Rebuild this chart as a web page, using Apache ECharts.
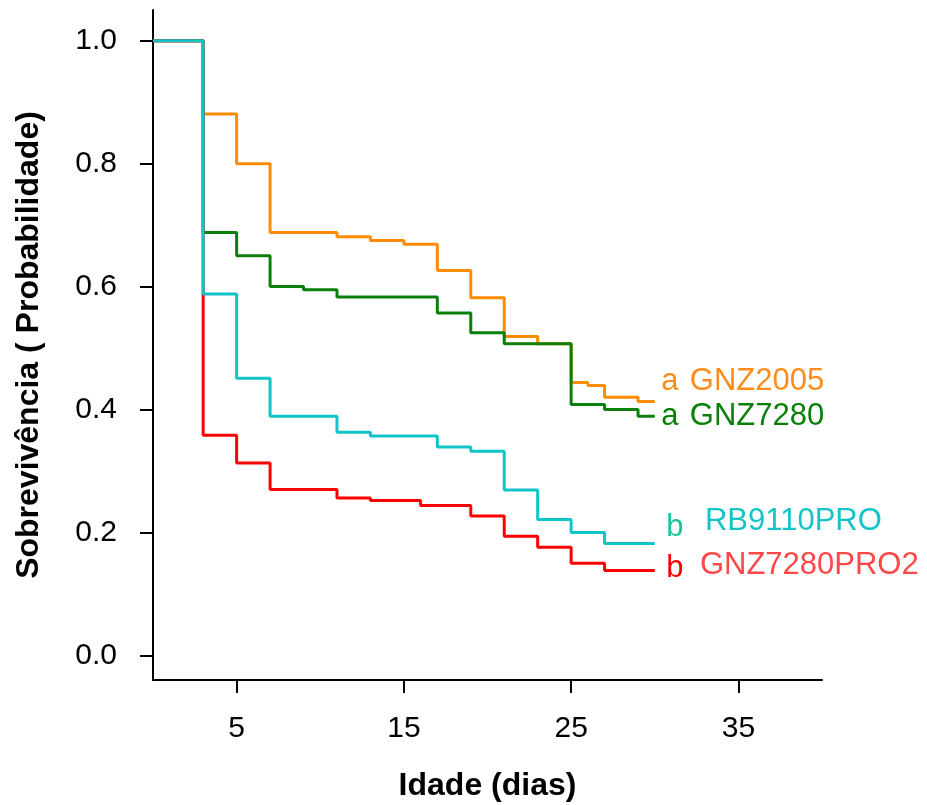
<!DOCTYPE html>
<html>
<head>
<meta charset="utf-8">
<script src="https://cdn.jsdelivr.net/npm/echarts@6/dist/echarts.min.js"></script>
<style>
  html, body { margin: 0; padding: 0; background: #fff; }
  #chart { width: 927px; height: 805px; }
</style>
</head>
<body>
<div id="chart"></div>
<script>
// dias de cada degrau e sobrevivência depois do degrau
const diasGNZ2005 = [0, 3, 5, 7, 11, 13, 15, 17, 19, 21, 23, 25, 26, 27, 29, 30]
const survGNZ2005 = [1, 0.881, 0.800, 0.688, 0.681, 0.675, 0.669, 0.626, 0.582, 0.519, 0.507, 0.444, 0.439, 0.420, 0.413, 0.413]

const diasGNZ7280 = [0, 3, 5, 7, 9, 11, 17, 19, 21, 25, 27, 29, 30]
const survGNZ7280 = [1, 0.688, 0.650, 0.600, 0.595, 0.583, 0.557, 0.525, 0.507, 0.408, 0.400, 0.389, 0.389]

const diasPRO2 = [0, 3, 5, 7, 11, 13, 16, 19, 21, 23, 25, 27, 30]
const survPRO2 = [1, 0.358, 0.313, 0.270, 0.256, 0.252, 0.244, 0.227, 0.194, 0.176, 0.150, 0.138, 0.138]

const diasRB9110 = [0, 3, 5, 7, 11, 13, 17, 19, 21, 23, 25, 27, 30]
const survRB9110 = [1, 0.588, 0.451, 0.389, 0.363, 0.357, 0.339, 0.332, 0.269, 0.221, 0.200, 0.182, 0.182]

const xTicks = [5, 15, 25, 35]
const yTicks = [0, 0.2, 0.4, 0.6, 0.8, 1.0]

// letras (grupos) e nomes ao lado das curvas
const letras = ['a', 'a', 'b', 'b']
const letrasPos = [[30.9, 0.445], [30.9, 0.388], [31.2, 0.208], [31.2, 0.141]]
const nomes = ['GNZ2005', 'GNZ7280', 'RB9110PRO', 'GNZ7280PRO2']
const nomesPos = [[32.1, 0.445], [32.1, 0.388], [33.0, 0.218], [32.7, 0.146]]
const letraCores = ['#ff8c1a', '#0a800a', '#1ec4a0', '#ff0000']
const nomeCores = ['#ff8c1a', '#0a800a', '#14c4c8', '#ff4848']

const font = 'Liberation Sans, Arial, Helvetica, sans-serif'

function pares (dias, surv) {
  return dias.map((d, i) => [d, surv[i]])
}

function curva (name, dias, surv, color) {
  return {
    name: name,
    type: 'line',
    step: 'end',
    symbol: 'none',
    lineStyle: { color: color, width: 3 },
    itemStyle: { color: color },
    data: pares(dias, surv)
  }
}

function textos (pos, txt, cores, align) {
  return {
    type: 'scatter',
    symbolSize: 0,
    silent: true,
    itemStyle: { opacity: 1 },
    data: pos.map((p, i) => ({
      value: p,
      label: {
        show: true, position: 'inside', formatter: txt[i], opacity: 1,
        color: cores[i], fontSize: 31, fontFamily: font, align: align, verticalAlign: 'middle'
      }
    }))
  }
}

const chart = echarts.init(document.getElementById('chart'))
const option = {
  animation: false,
  backgroundColor: '#ffffff',
  grid: { left: 153, right: 105, top: 10, bottom: 125, containLabel: false, outerBoundsMode: 'none' },
  xAxis: {
    type: 'value',
    min: 0,
    max: 40,
    name: 'Idade (dias)',
    nameLocation: 'middle',
    nameGap: 90,
    nameTextStyle: { fontSize: 32, fontWeight: 'bold', color: '#000', fontFamily: font },
    axisLine: { show: true, onZero: false, lineStyle: { color: '#000', width: 2 } },
    axisTick: { show: true, length: 13, lineStyle: { color: '#000', width: 2 }, customValues: xTicks },
    axisLabel: { fontSize: 30, color: '#000', fontFamily: font, margin: 34, customValues: xTicks },
    splitLine: { show: false }
  },
  yAxis: {
    type: 'value',
    min: -0.04,
    max: 1.05,
    name: 'Sobrevivência ( Probabilidade)',
    nameLocation: 'middle',
    nameGap: 108,
    nameTextStyle: { fontSize: 32, fontWeight: 'bold', color: '#000', fontFamily: font },
    axisLine: { show: true, onZero: false, lineStyle: { color: '#000', width: 2 } },
    axisTick: { show: true, length: 13, lineStyle: { color: '#000', width: 2 }, customValues: yTicks },
    axisLabel: {
      fontSize: 30, color: '#000', fontFamily: font, margin: 36, customValues: yTicks,
      formatter: (v) => v.toFixed(1)
    },
    splitLine: { show: false }
  },
  series: [
    curva('GNZ2005', diasGNZ2005, survGNZ2005, '#ff8c00'),
    curva('GNZ7280', diasGNZ7280, survGNZ7280, '#0a800a'),
    curva('GNZ7280PRO2', diasPRO2, survPRO2, '#ff0000'),
    curva('RB9110PRO', diasRB9110, survRB9110, '#10c4c8'),
    textos(letrasPos, letras, letraCores, 'center'),
    textos(nomesPos, nomes, nomeCores, 'left')
  ]
}
chart.setOption(option)
</script>
</body>
</html>
